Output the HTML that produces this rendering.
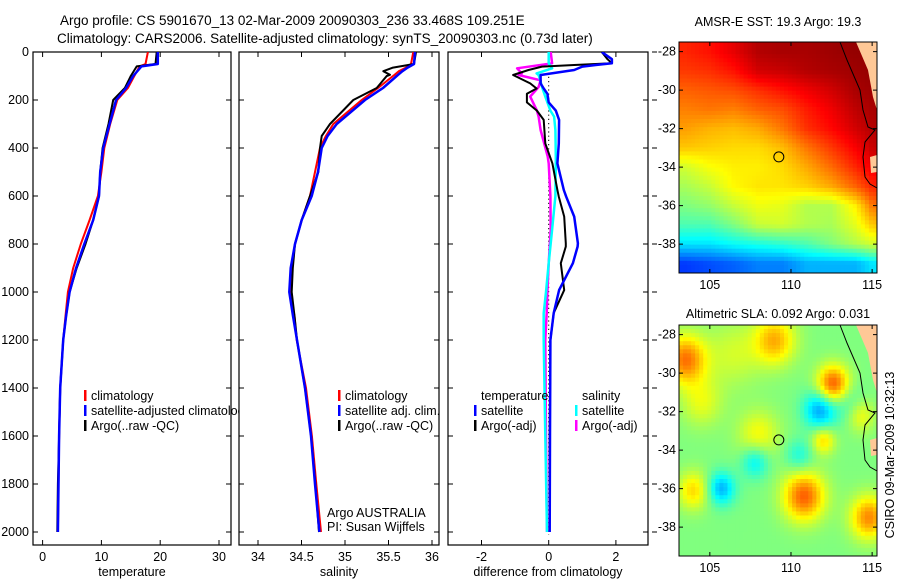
<!DOCTYPE html>
<html><head><meta charset="utf-8"><style>
html,body{margin:0;padding:0;background:#fff}
svg{display:block}
text{font-family:"Liberation Sans",sans-serif;font-size:12.5px;fill:#000}
</style></head><body>
<svg id="fig" width="900" height="580" viewBox="0 0 900 580" xmlns="http://www.w3.org/2000/svg">
<rect width="900" height="580" fill="#fff"/>
<text x="60" y="25" style="font-size:13.5px">Argo profile: CS 5901670_13 02-Mar-2009 20090303_236 33.468S 109.251E</text>
<text x="57" y="43" style="font-size:13.5px">Climatology: CARS2006. Satellite-adjusted climatology: synTS_20090303.nc (0.73d later)</text>
<g id="panels"></g>
<g id="maps"></g>
<text transform="translate(894,455) rotate(-90)" text-anchor="middle">CSIRO 09-Mar-2009 10:32:13</text>
</svg>
<script>
// ---------- profile data ----------
const tempDepth = [0,50,60,100,150,200,300,400,500,600,700,800,900,1000,1100,1200,1400,1600,1800,2000];
const tempClim  = [17.9,17.5,16.5,15.6,14.5,12.7,11.5,10.5,10.0,9.4,8.0,6.5,5.2,4.3,3.9,3.5,3.0,2.8,2.7,2.6];
const tempSat   = [19.6,19.6,16.8,15.4,14.2,12.5,11.4,10.3,9.8,9.6,8.6,7.1,5.7,4.6,4.0,3.5,3.0,2.8,2.7,2.6];
const tempArgo  = [19.4,19.2,16.0,15.0,14.0,12.0,11.2,10.2,9.8,9.6,8.6,7.3,5.8,4.6,4.0,3.5,3.0,2.8,2.6,2.5];

const salDepth = [0,50,65,80,95,100,150,200,300,350,400,500,600,700,800,900,1000,1100,1200,1400,1600,1800,2000];
const salClim  = [35.785,35.759,35.70,35.62,35.57,35.552,35.379,35.192,34.866,34.78,34.713,34.655,34.598,34.502,34.425,34.387,34.368,34.42,34.445,34.552,34.62,34.67,34.724];
const salSat   = [35.805,35.793,35.72,35.66,35.61,35.594,35.437,35.23,34.905,34.80,34.732,34.69,34.617,34.502,34.425,34.376,34.36,34.402,34.448,34.54,34.609,34.655,34.706];
const salArgo  = [35.816,35.793,35.552,35.44,35.517,35.479,35.364,35.095,34.828,34.732,34.713,34.693,34.598,34.502,34.425,34.40,34.387,34.42,34.448,34.54,34.61,34.66,34.701];

const dTempDepth = [0,30,47,54,61,75,96,131,152,174,210,244,283,381,464,575,603,686,797,811,880,992,1088,1200,1600,2000];
const dTempSat   = [1.58,1.88,1.88,1.4,1.0,0.76,-0.24,-0.24,-0.15,-0.04,0.0,0.21,0.31,0.30,0.26,0.45,0.52,0.76,0.87,0.86,0.72,0.31,0.15,0.05,0.04,0.03];
const dTempArgo  = [1.58,1.75,1.88,0.76,-0.2,-0.6,-1.06,-0.55,-0.36,-0.65,-0.65,-0.35,-0.15,-0.1,0.11,0.26,0.30,0.46,0.51,0.51,0.36,0.46,0.15,0.05,0.03,0.02];
const dSalDepth  = [0,47,68,89,96,118,146,186,244,269,325,436,464,600,741,880,1000,1088,1200,1600,2000];
const dSalSat    = [0.0,0.0,0.1,-0.36,-0.3,-0.25,-0.2,-0.1,0.05,0.16,0.2,0.21,0.21,0.2,0.1,0.0,-0.08,-0.15,-0.15,-0.1,-0.05];
const dSalArgo   = [0.06,0.1,-0.94,-0.8,-0.9,-0.24,-0.3,-0.55,-0.35,-0.3,-0.24,-0.03,0.0,0.05,0.06,0.0,-0.04,-0.06,-0.1,-0.08,-0.05];

const tempTicks = [0,10,20,30];
const salTicks = [34,34.5,35,35.5,36];
const diffTicks = [-2,0,2];
const depthTicks = [0,200,400,600,800,1000,1200,1400,1600,1800,2000];

// ---------- map data ----------
const sstLats = [-28,-29,-30,-31,-32,-33,-34,-35,-36,-37,-38,-39];
const sstLons = [103.5,105,106.5,108,109.5,111,112.5,114,115];
const sstRows = [
 [.84,.86,.90,.95,.96,.96,.97,.98,.98],
 [.82,.83,.86,.92,.93,.95,.96,.97,.98],
 [.78,.79,.80,.83,.86,.89,.92,.96,.97],
 [.75,.76,.75,.78,.80,.85,.89,.94,.96],
 [.72,.70,.69,.71,.76,.83,.87,.92,.95],
 [.68,.67,.66,.66,.69,.76,.82,.88,.93],
 [.58,.62,.64,.64,.66,.71,.77,.84,.89],
 [.54,.57,.63,.65,.65,.67,.71,.78,.84],
 [.50,.52,.57,.61,.60,.55,.55,.64,.76],
 [.45,.45,.50,.57,.58,.55,.54,.60,.68],
 [.35,.35,.38,.40,.42,.45,.50,.55,.58],
 [.18,.20,.22,.25,.25,.30,.30,.30,.35]];
const slaBase = 0.50;
const slaBlobLon = [103.5,109.0,112.6,111.8,105.7,110.8,104.0,114.8,108.0,112.0,107.8,110.5,104.5,113.5,106.5,114.3];
const slaBlobLat = [-29.3,-28.3,-30.6,-31.9,-36.0,-36.4,-36.1,-37.5,-33.2,-33.5,-34.6,-34.3,-31.5,-31.5,-29.0,-32.2];
const slaBlobAmp = [0.26,0.2,0.3,-0.22,-0.2,0.28,0.16,0.24,0.12,0.16,-0.14,-0.1,0.1,-0.08,0.08,0.12];
const slaBlobRad = [0.9,0.9,0.7,0.7,0.6,0.9,0.7,0.8,0.9,0.5,0.6,0.6,0.9,0.7,1.2,0.6];
const argoLon = 109.251, argoLat = -33.468;
const mapLonTicks = [105,110,115];
const mapLatTicks = [-28,-30,-32,-34,-36,-38];

const NS = 'http://www.w3.org/2000/svg';
function mk(tag, attrs, parent){const e=document.createElementNS(NS,tag);for(const k in attrs)e.setAttribute(k,attrs[k]);parent.appendChild(e);return e;}

const PT=52, PB=545;
const yDepth = d => 52 + d*0.24;
const panelsG = document.getElementById('panels');

function panel(name,x0,x1,xs,ticks,xlabel,showY){
  const g=mk('g',{},panelsG);
  
  
  const clipId=name+'-clip';
  const cp=mk('clipPath',{id:clipId},g);
  mk('rect',{x:x0,y:PT,width:x1-x0,height:PB-PT},cp);
  const frame=mk('rect',{x:x0,y:PT,width:x1-x0,height:PB-PT,fill:'#fff',stroke:'#000','stroke-width':1.2},g);
  
  
  ticks.forEach(t=>{const x=xs(t);
    mk('line',{x1:x,x2:x,y1:PB,y2:PB-5,stroke:'#000'},g);
    mk('line',{x1:x,x2:x,y1:PT,y2:PT+5,stroke:'#000'},g);
    const tl=mk('text',{x:x,y:PB+16,'text-anchor':'middle'},g); tl.textContent=t;
    
    
  });
  depthTicks.forEach(d=>{const y=yDepth(d);
    mk('line',{x1:x0,x2:x0+5,y1:y,y2:y,stroke:'#000'},g);
    mk('line',{x1:x1,x2:x1-5,y1:y,y2:y,stroke:'#000'},g);
    if(showY){const tl=mk('text',{x:x0-4,y:y+4,'text-anchor':'end'},g); tl.textContent=d;
      
      }
  });
  const xl=mk('text',{x:(x0+x1)/2,y:576,'text-anchor':'middle'},g); xl.textContent=xlabel;
  
  
  const lines=mk('g',{'clip-path':'url(#'+clipId+')'},g);
  return {g,lines};
}
function series(parent,depths,vals,xs,color,w,name){
  const pts=depths.map((d,i)=>xs(vals[i]).toFixed(1)+','+yDepth(d).toFixed(1)).join(' ');
  const p=mk('polyline',{points:pts,fill:'none',stroke:color,'stroke-width':w,'stroke-linejoin':'round'},parent);
  
  
}
function legend(g,x,y,color,label,name){
  mk('rect',{x:x,y:y-8,width:2.5,height:11,fill:color},g);
  const t=mk('text',{x:x+7,y:y+2},g); t.textContent=label;
  
  
}

// Panel 1 temperature
const xT = v => 42.6 + v*5.88;
const p1=panel('temperature-panel',33,231,xT,tempTicks,'temperature',true);
series(p1.lines,tempDepth,tempClim,xT,'#f00',2,'temp-climatology-line');
series(p1.lines,tempDepth,tempArgo,xT,'#000',2,'temp-argo-line');
series(p1.lines,tempDepth,tempSat,xT,'#00f',2.5,'temp-satellite-line');
legend(p1.g,84,398,'#f00','climatology','legend-climatology');
legend(p1.g,84,413,'#00f','satellite-adjusted climatology','legend-satellite');
legend(p1.g,84,428,'#000','Argo(..raw -QC)','legend-argo');

// Panel 2 salinity
const xS = v => 258 + (v-34)*87;
const p2=panel('salinity-panel',239,439,xS,salTicks,'salinity',false);
series(p2.lines,salDepth,salClim,xS,'#f00',2,'sal-climatology-line');
series(p2.lines,salDepth,salArgo,xS,'#000',2,'sal-argo-line');
series(p2.lines,salDepth,salSat,xS,'#00f',2.5,'sal-satellite-line');
legend(p2.lines,338,398,'#f00','climatology','legend-climatology');
legend(p2.lines,338,413,'#00f','satellite adj. clim.','legend-satellite');
legend(p2.lines,338,428,'#000','Argo(..raw -QC)','legend-argo');
const a1=mk('text',{x:327,y:517},p2.g); a1.textContent='Argo AUSTRALIA';


const a2=mk('text',{x:327,y:531},p2.g); a2.textContent='PI: Susan Wijffels';



// Panel 3 differences
const xD = v => 548.7 + v*33.6;
const p3=panel('difference-panel',448,648,xD,diffTicks,'difference from climatology',false);
mk('line',{x1:xD(0),x2:xD(0),y1:PT+8,y2:PB-10,stroke:'#000','stroke-dasharray':'1.2,3'},p3.lines);
series(p3.lines,dSalDepth,dSalArgo,xD,'#f0f',2.5,'diff-sal-argo-line');
series(p3.lines,dSalDepth,dSalSat,xD,'#0ff',2.5,'diff-sal-satellite-line');
series(p3.lines,dTempDepth,dTempArgo,xD,'#000',2,'diff-temp-argo-line');
series(p3.lines,dTempDepth,dTempSat,xD,'#00f',2.5,'diff-temp-satellite-line');
const lt1=mk('text',{x:481,y:400},p3.lines); lt1.textContent='temperature';


const lt2=mk('text',{x:582,y:400},p3.lines); lt2.textContent='salinity';


legend(p3.lines,474,413,'#00f','satellite','legend-temp-satellite');
legend(p3.lines,474,428,'#000','Argo(-adj)','legend-temp-argo');
legend(p3.lines,575,413,'#0ff','satellite','legend-sal-satellite');
legend(p3.lines,575,428,'#f0f','Argo(-adj)','legend-sal-argo');
for(const d of depthTicks){const y=yDepth(d); mk('line',{x1:652,x2:657,y1:y,y2:y,stroke:'#000'},panelsG);}

// ---------- maps ----------
function jet(v){v=Math.max(0,Math.min(1,v));const c=a=>Math.round(255*Math.max(0,Math.min(1,1.5-Math.abs(4*v-a))));return 'rgb('+c(3)+','+c(2)+','+c(1)+')';}
const MX0=679, MX1=877, LON0=103.1, LON1=115.3;
function interpSST(lon,lat){
  const fi=(arr,v,desc)=>{let i=0;if(desc){while(i<arr.length-2&&v<arr[i+1])i++;let t=(arr[i]-v)/(arr[i]-arr[i+1]);return [i,Math.max(0,Math.min(1,t))];}
    while(i<arr.length-2&&v>arr[i+1])i++;let t=(v-arr[i])/(arr[i+1]-arr[i]);return [i,Math.max(0,Math.min(1,t))];};
  const [r,tr]=fi(sstLats,lat,true), [c,tc]=fi(sstLons,lon,false);
  const a=sstRows[r][c],b=sstRows[r][c+1],d=sstRows[r+1][c],e=sstRows[r+1][c+1];
  return (a*(1-tc)+b*tc)*(1-tr)+(d*(1-tc)+e*tc)*tr;
}
function slaVal(lon,lat){let v=slaBase;for(let i=0;i<slaBlobLon.length;i++){const dx=lon-slaBlobLon[i],dy=lat-slaBlobLat[i];v+=slaBlobAmp[i]*Math.exp(-(dx*dx+dy*dy)/(2*slaBlobRad[i]*slaBlobRad[i]));}return v;}
const landPts=[[177,0],[198,0],[198,68],[194,55],[189,28]];
const islandPts=[[191,115],[198,113],[198,130],[192,131]];
const coastPts=[[161,0],[168,18],[181,48],[184,68],[189,85],[196,88],[186,100],[184,115],[186,135],[191,142],[198,146]];
const maps=document.getElementById('maps');
function drawMap(name,top,bottom,valFn,title,titleY){
  const g=mk('g',{},maps);
  
  
  const H=bottom-top, W=MX1-MX0;
  const lon=x=>LON0+(x-MX0)/W*(LON1-LON0);
  const latOf=y=>-27.5-(y-top)/H*12;
  const yLat=l=>top+(-27.5-l)/12*H, xLon=l=>MX0+(l-LON0)/(LON1-LON0)*W;
  const cw=W/49, ch=H/57;
  for(let i=0;i<49;i++)for(let j=0;j<57;j++){
    const x=MX0+i*cw,y=top+j*ch;
    mk('rect',{x:x.toFixed(2),y:y.toFixed(2),width:(cw+0.5).toFixed(2),height:(ch+0.5).toFixed(2),fill:jet(valFn(lon(x+cw/2),latOf(y+ch/2)))},g);
  }
  const tr=p=>p.map(q=>(MX0+q[0])+','+(top+q[1]*H/231)).join(' ');
  const land=mk('polygon',{points:tr(landPts),fill:'#ffc896'},g);
  
  
  mk('polygon',{points:tr(islandPts),fill:'#ffc896'},g);
  const coast=mk('polyline',{points:tr(coastPts),fill:'none',stroke:'#000','stroke-width':1},g);
  
  
  mk('rect',{x:MX0,y:top,width:W,height:H,fill:'none',stroke:'#000'},g);
  mapLonTicks.forEach(l=>{const x=xLon(l);
    mk('line',{x1:x,x2:x,y1:bottom,y2:bottom-4,stroke:'#000'},g);
    mk('line',{x1:x,x2:x,y1:top,y2:top+4,stroke:'#000'},g);
    const t=mk('text',{x:x,y:bottom+16,'text-anchor':'middle'},g);t.textContent=l;
    
    });
  mapLatTicks.forEach(l=>{const y=yLat(l);
    mk('line',{x1:MX0,x2:MX0+4,y1:y,y2:y,stroke:'#000'},g);
    mk('line',{x1:MX1,x2:MX1-4,y1:y,y2:y,stroke:'#000'},g);
    const t=mk('text',{x:MX0-3,y:y+4,'text-anchor':'end'},g);t.textContent=l;
    
    });
  const c=mk('circle',{cx:xLon(argoLon),cy:yLat(argoLat),r:5,fill:'none',stroke:'#000','stroke-width':1},g);
  
  
  const t=mk('text',{x:(MX0+MX1)/2,y:titleY,'text-anchor':'middle'},g);t.textContent=title;
  
  
}
drawMap('sst-map',42,273,interpSST,'AMSR-E SST: 19.3 Argo: 19.3',26);
drawMap('sla-map',325,556,slaVal,'Altimetric SLA: 0.092 Argo: 0.031',318);
</script>
</body></html>
